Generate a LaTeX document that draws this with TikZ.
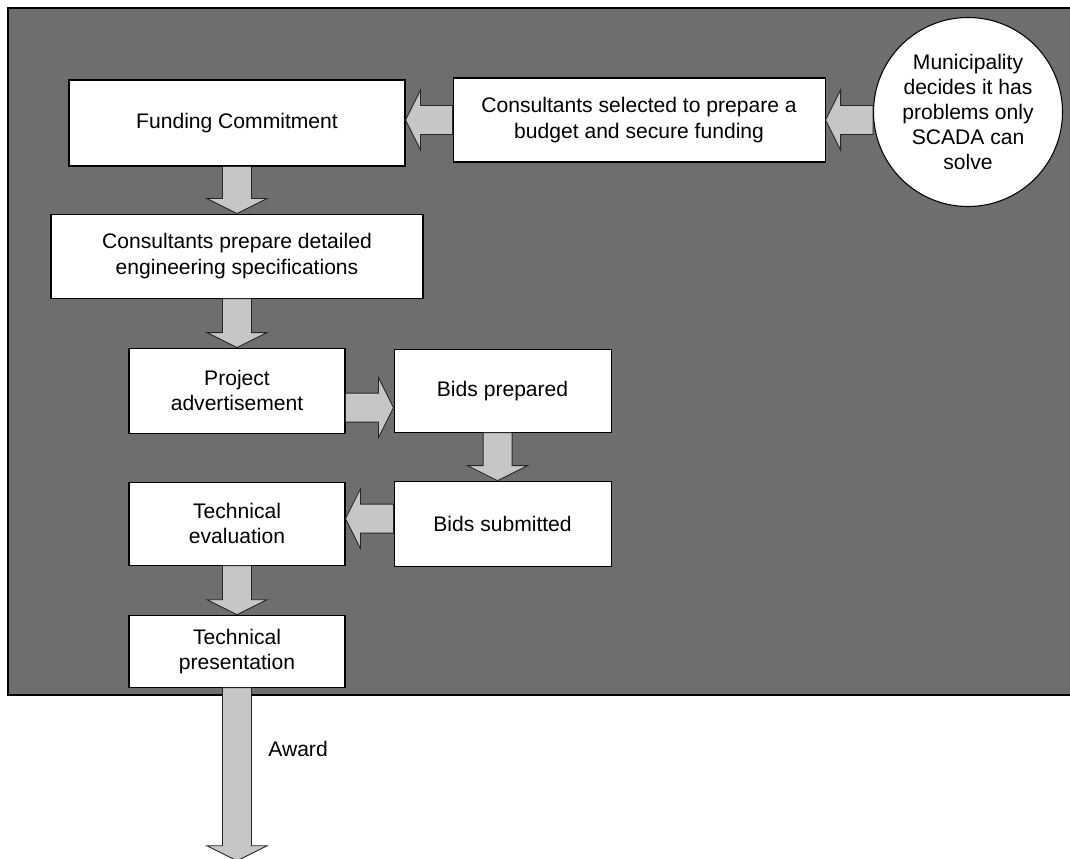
\documentclass[tikz,border=0pt]{standalone}
\usepackage{fontspec}
\setmainfont{Liberation Sans}
\usetikzlibrary{positioning,calc}
\definecolor{panelgray}{HTML}{6E6E6E}
\definecolor{arrowgray}{HTML}{C6C6C6}
\tikzset{
  stepbox/.style={draw, line width=0.6pt, fill=white, align=center, inner sep=2pt, font=\fontsize{12}{14.3}\selectfont},
  decision/.style={stepbox, circle, inner sep=0pt, minimum size=37.8mm},
  flowarrow/.style={draw=black!85, line width=0.5pt, fill=arrowgray},
  panel/.style={draw, line width=1.2pt, fill=panelgray},
  lbl/.style={font=\fontsize{12}{14.3}\selectfont, inner sep=0pt}
}
% block arrow from #1 to #2
\newcommand\bigarrow[2]{%
  \draw[flowarrow] let \p1=(#1), \p2=(#2), \p3=($(\p2)-(\p1)$), \n1={atan2(\y3,\x3)}, \n2={veclen(\x3,\y3)} in
    [shift={(\p1)}, rotate=\n1] (0pt,-2.9mm) -- (\n2-3mm,-2.9mm) -- (\n2-3mm,-6mm) -- (\n2,0pt)
    -- (\n2-3mm,6mm) -- (\n2-3mm,2.9mm) -- (0pt,2.9mm) -- cycle;}

\begin{document}
\begin{tikzpicture}[x=0.2mm, y=-0.2mm]
\useasboundingbox (0,0) rectangle (1070,858);
\path[panel] (8,8) rectangle (1080,695);
\node[stepbox, minimum width=67.2mm, minimum height=17.2mm] (fund) at (237,123) {Funding Commitment};
\node[stepbox, right=9.4mm of fund, yshift=0.6mm, minimum width=74.4mm, minimum height=16.8mm] (sel) {Consultants selected to prepare a\\budget and secure funding};
\node[decision] (muni) at (968,112) {Municipality\\decides it has\\problems only\\SCADA can\\solve};
\node[stepbox, below=9.4mm of fund, minimum width=74.4mm, minimum height=16.8mm] (spec) {Consultants prepare detailed\\engineering specifications};
\node[stepbox, below=9.8mm of spec, minimum width=43.2mm, minimum height=17mm] (adv) {Project\\advertisement};
\node[stepbox, right=9.6mm of adv, minimum width=43.4mm, minimum height=16.6mm] (bidp) {Bids prepared};
\node[stepbox, below=9.6mm of bidp, minimum width=43.4mm, minimum height=17mm] (bids) {Bids submitted};
\node[stepbox, left=9.6mm of bids, minimum width=43.2mm, minimum height=16.6mm] (eval) {Technical\\evaluation};
\node[stepbox, below=9.8mm of eval, minimum width=43.2mm, minimum height=14.4mm] (pres) {Technical\\presentation};
\coordinate (awend) at ($(pres.south)+(0,173)$);
\node[lbl, anchor=west] (award) at (268,749) {Award};
% arrow start points off centre
\coordinate (advout) at ($(adv.east)+(0,17)$);
\coordinate (bidpout) at ($(bidp.south)+(-5,0)$);
\coordinate (bidsout) at ($(bids.west)+(0,-5)$);
% flow
\bigarrow{sel.east -| muni.west}{sel.east}
\bigarrow{sel.west}{sel.west -| fund.east}
\bigarrow{fund.south}{spec.north}
\bigarrow{spec.south}{adv.north}
\bigarrow{advout}{advout -| bidp.west}
\bigarrow{bidpout}{bidpout |- bids.north}
\bigarrow{bidsout}{bidsout -| eval.east}
\bigarrow{eval.south}{pres.north}
\bigarrow{pres.south}{awend}
\end{tikzpicture}
\end{document}
